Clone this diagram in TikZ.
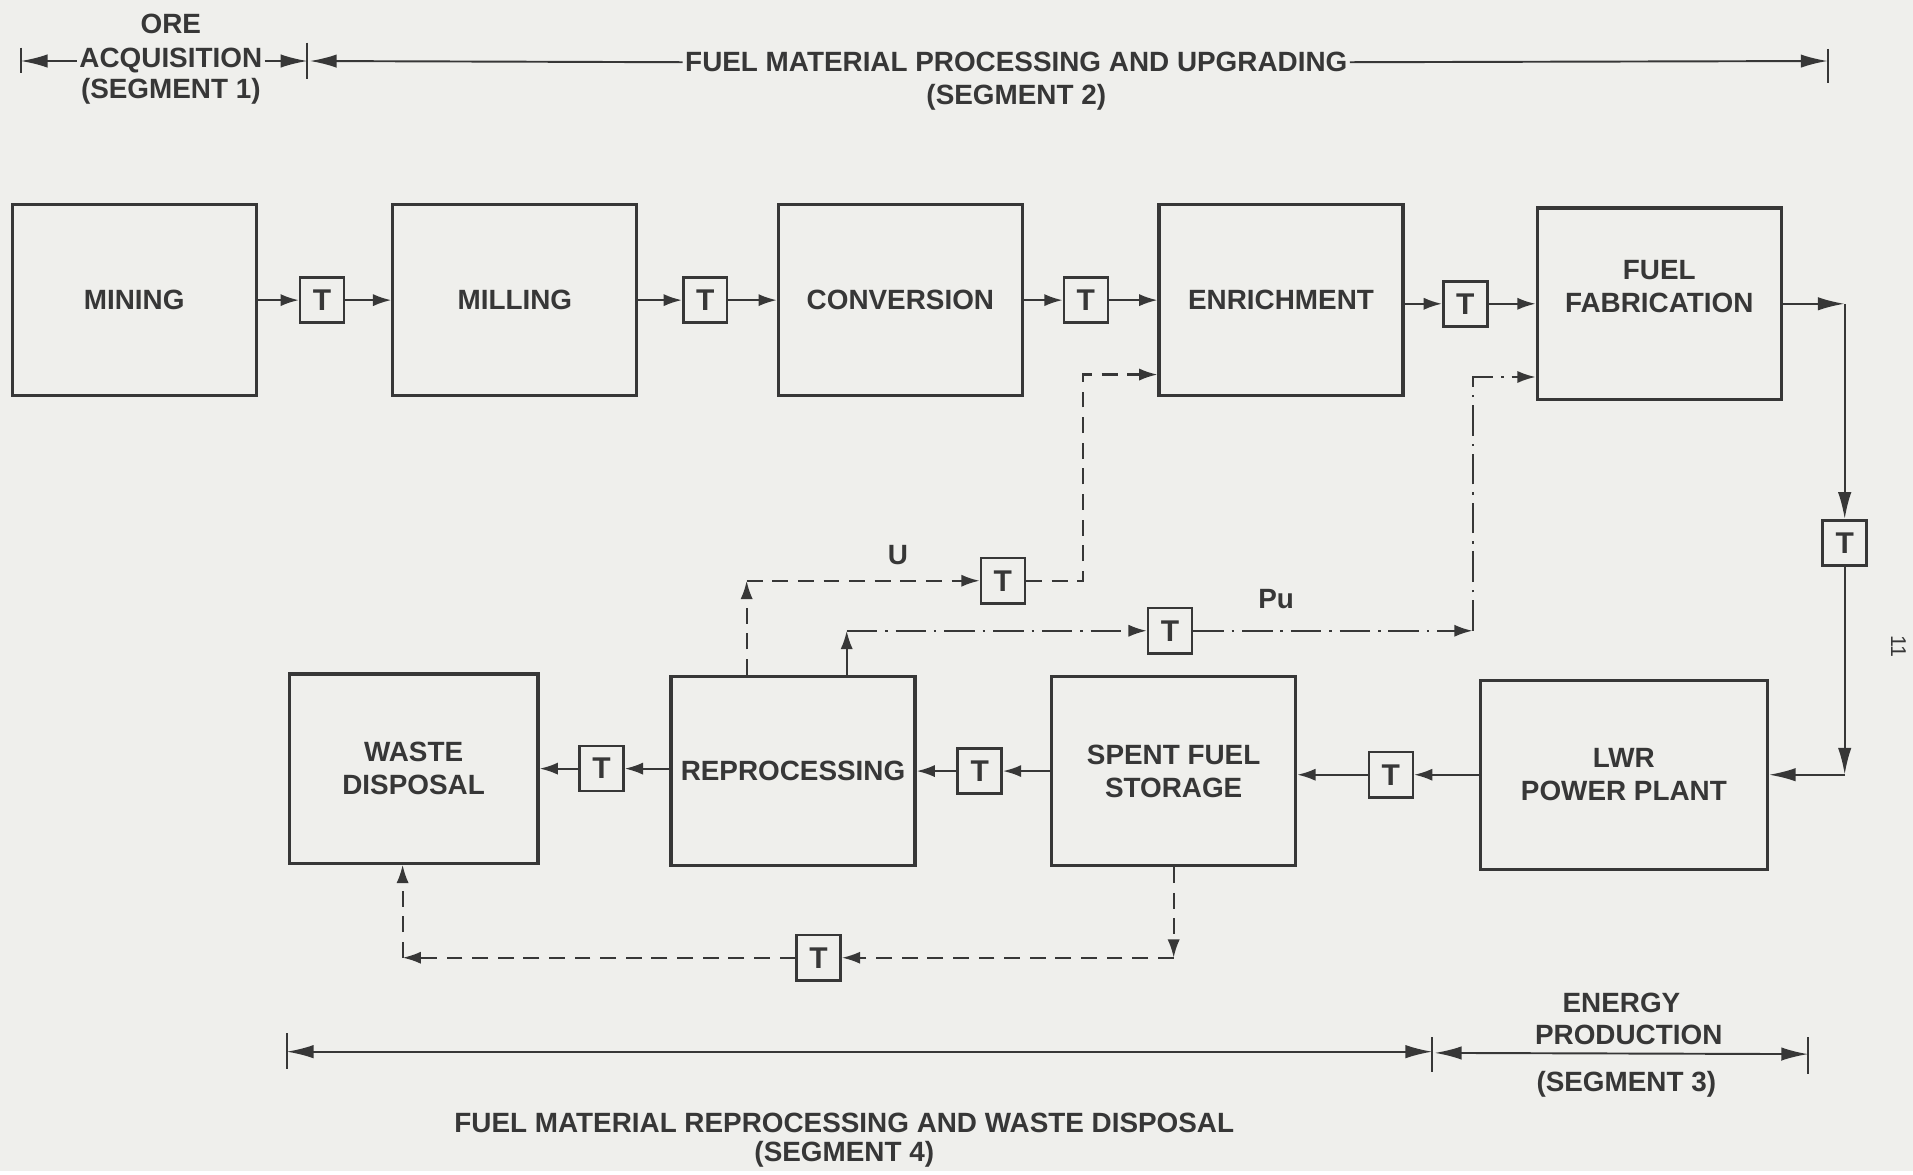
\documentclass[tikz,border=0pt]{standalone}
\usepackage{fontspec}
\setmainfont{Liberation Sans}
\usetikzlibrary{arrows.meta, calc, positioning}
\definecolor{paper}{RGB}{239,239,236}
\definecolor{ink}{RGB}{55,55,55}

\begin{document}
\begin{tikzpicture}[x=0.02cm, y=-0.02cm,
    every node/.style={text=ink, font=\fontsize{13}{15.5}\selectfont\bfseries, align=center},
    stage/.style={draw=ink, line width=1.5pt, fill=paper, minimum width=4cm, minimum height=3.14cm, inner sep=0pt},
    tbox/.style={draw=ink, line width=1.2pt, minimum width=0.72cm, minimum height=0.74cm, inner sep=0pt, font=\fontsize{14}{16}\selectfont\bfseries},
    flow/.style={draw=ink, line width=1pt, -{Latex[length=0.3cm, width=0.2cm]}},
    bigflow/.style={draw=ink, line width=1pt, -{Latex[length=0.44cm, width=0.22cm]}},
    uflow/.style={flow, dash pattern=on 0.26cm off 0.16cm},
    puflow/.style={flow, dash pattern=on 0.5cm off 0.13cm on 0.04cm off 0.13cm},
    dim/.style={draw=ink, line width=0.9pt, -{Latex[length=0.44cm, width=0.22cm]}},
    tick/.style={draw=ink, line width=0.9pt},
    seglabel/.style={inner sep=1pt}]

    % 1. Paper
    \fill[paper] (0,0) rectangle (1568,960);

    % 2. Upper row of stages
    \node[stage] (mining) at (110,246) {MINING};
    \node[stage] (milling) at (422,246) {MILLING};
    \node[stage] (conv) at (738,246) {CONVERSION};
    \node[stage] (enrich) at (1050,246) {ENRICHMENT};
    \node[stage] (fab) at (1360,249) {};
    \node (fabtext) at ($(fab)+(0,-14)$) {FUEL\\FABRICATION};

    % Transport steps between them
    \node[tbox] (t1) at (264,246) {T};
    \node[tbox] (t2) at (578,246) {T};
    \node[tbox] (t3) at (890,246) {T};
    \node[tbox] (t4) at (1201,249) {T};
    \draw[flow] (mining) -- (t1);
    \draw[flow] (t1) -- (milling);
    \draw[flow] (milling) -- (t2);
    \draw[flow] (t2) -- (conv);
    \draw[flow] (conv) -- (t3);
    \draw[flow] (t3) -- (enrich);
    \draw[flow] (enrich.east |- t4) -- (t4);
    \draw[flow] (t4) -- (fab);

    % 3. Lower row of stages
    \node[stage, minimum width=4.7cm, minimum height=3.1cm] (lwr) at (1331,635) {LWR\\POWER PLANT};
    \node[stage, minimum height=3.1cm] (spent) at (962,632) {SPENT FUEL\\STORAGE};
    \node[stage, minimum height=3.1cm] (repro) at (650,632) {REPROCESSING};
    \node[stage, minimum width=4.08cm, minimum height=3.1cm] (waste) at (339,630) {WASTE\\DISPOSAL};

    \node[tbox] (t6) at (1140,635) {T};
    \node[tbox] (t7) at (803,632) {T};
    \node[tbox] (t8) at (493,630) {T};
    \draw[flow] (lwr.west |- t6) -- (t6);
    \draw[flow] (t6) -- (spent.east |- t6);
    \draw[flow] (spent) -- (t7);
    \draw[flow] (t7) -- (repro);
    \draw[flow] (repro.west |- t8) -- (t8);
    \draw[flow] (t8) -- (waste);

    % 4. Fabrication down to the power plant
    \node[tbox] (t5) at (1512,445) {T};
    \coordinate (rc1) at (fab.east -| t5);
    \coordinate (rc2) at (lwr.east -| t5);
    \draw[bigflow] (fab) -- (rc1);
    \draw[bigflow] (rc1) -- (t5);
    \draw[bigflow] (t5) -- (rc2);
    \draw[bigflow] (rc2) -- (lwr);

    % 5. Recycled uranium (dashed)
    \node[tbox] (tu) at (822,476) {T};
    \coordinate (ub) at (612,476);
    \coordinate (uc1) at (888,476);
    \coordinate (uc2) at (888,307);
    \draw[uflow] (ub |- repro.north) -- (ub);
    \draw[uflow] (ub) -- (tu);
    \draw[uflow] (tu) -- (uc1) -- (uc2) -- (uc2 -| enrich.west);
    \node (ulabel) at (736,455) {U};

    % 6. Recycled plutonium (dash-dot)
    \node[tbox] (tp) at (959,517) {T};
    \coordinate (pb) at (694,517);
    \coordinate (pc1) at (1207,517);
    \coordinate (pc2) at (1207,309);
    \draw[puflow] (pb |- repro.north) -- (pb);
    \draw[puflow] (pb) -- (tp);
    \draw[puflow] (tp) -- (pc1);
    \draw[puflow] (pc1) -- (pc2) -- (pc2 -| fab.west);
    \node (pulabel) at (1046,491) {Pu};

    % 7. Spent fuel straight to disposal (dashed)
    \node[tbox] (tw) at (671,785) {T};
    \coordinate (wc1) at (spent.south |- tw);
    \coordinate (wc2) at (330,785);
    \draw[uflow] (spent) -- (wc1);
    \draw[uflow] (wc1) -- (tw);
    \draw[uflow] (tw) -- (wc2);
    \draw[uflow] (wc2) -- (wc2 |- waste.south);

    % 8. Segment spans, top
    \coordinate (s1L) at (17,50);
    \coordinate (s1R) at (252,50);
    \coordinate (s2R) at (1498,50);
    \node (ore) at (140,20) {ORE};
    \node[seglabel] (acq) at (140,50) {ACQUISITION};
    \node (seg1) at (140,75) {(SEGMENT 1)};
    \node[seglabel] (upg) at (833,51) {FUEL MATERIAL PROCESSING AND UPGRADING};
    \node (seg2) at (833,80) {(SEGMENT 2)};
    \draw[dim] (acq.west) -- (s1L);
    \draw[dim] (acq.east) -- (s1R);
    \draw[dim] (upg.west) -- ($(s1R)+(2,0)$);
    \draw[dim] (upg.east) -- (s2R);
    \draw[tick] ($(s1L)+(0,-11)$) -- ($(s1L)+(0,10)$);
    \draw[tick] ($(s1R)+(0,-15)$) -- ($(s1R)+(0,15)$);
    \draw[tick] ($(s2R)+(0,-10)$) -- ($(s2R)+(0,18)$);

    % 9. Segment spans, bottom
    \coordinate (s4L) at (235,862);
    \coordinate (s4R) at (1174,862);
    \coordinate (s3R) at (1482,864);
    \draw[dim, {Latex[length=0.44cm, width=0.22cm]}-{Latex[length=0.44cm, width=0.22cm]}] (s4L) -- (s4R);
    \draw[dim, {Latex[length=0.44cm, width=0.22cm]}-{Latex[length=0.44cm, width=0.22cm]}] ($(s4R)+(2,1)$) -- (s3R);
    \draw[tick] ($(s4L)+(0,-15)$) -- ($(s4L)+(0,14)$);
    \draw[tick] ($(s4R)+(0,-12)$) -- ($(s4R)+(0,17)$);
    \draw[tick] ($(s3R)+(0,-14)$) -- ($(s3R)+(0,16)$);
    \node (energy) at (1329,822) {ENERGY};
    \node (prod) at (1335,848) {PRODUCTION};
    \node (seg3) at (1333,889) {(SEGMENT 3)};
    \node (repdis) at (692,920) {FUEL MATERIAL REPROCESSING AND WASTE DISPOSAL};
    \node (seg4) at (692,946) {(SEGMENT 4)};

    % 10. Page number at the edge
    \node[rotate=-90, font=\fontsize{10}{12}\selectfont] (pageno) at (1556,530) {11};
\end{tikzpicture}
\end{document}
